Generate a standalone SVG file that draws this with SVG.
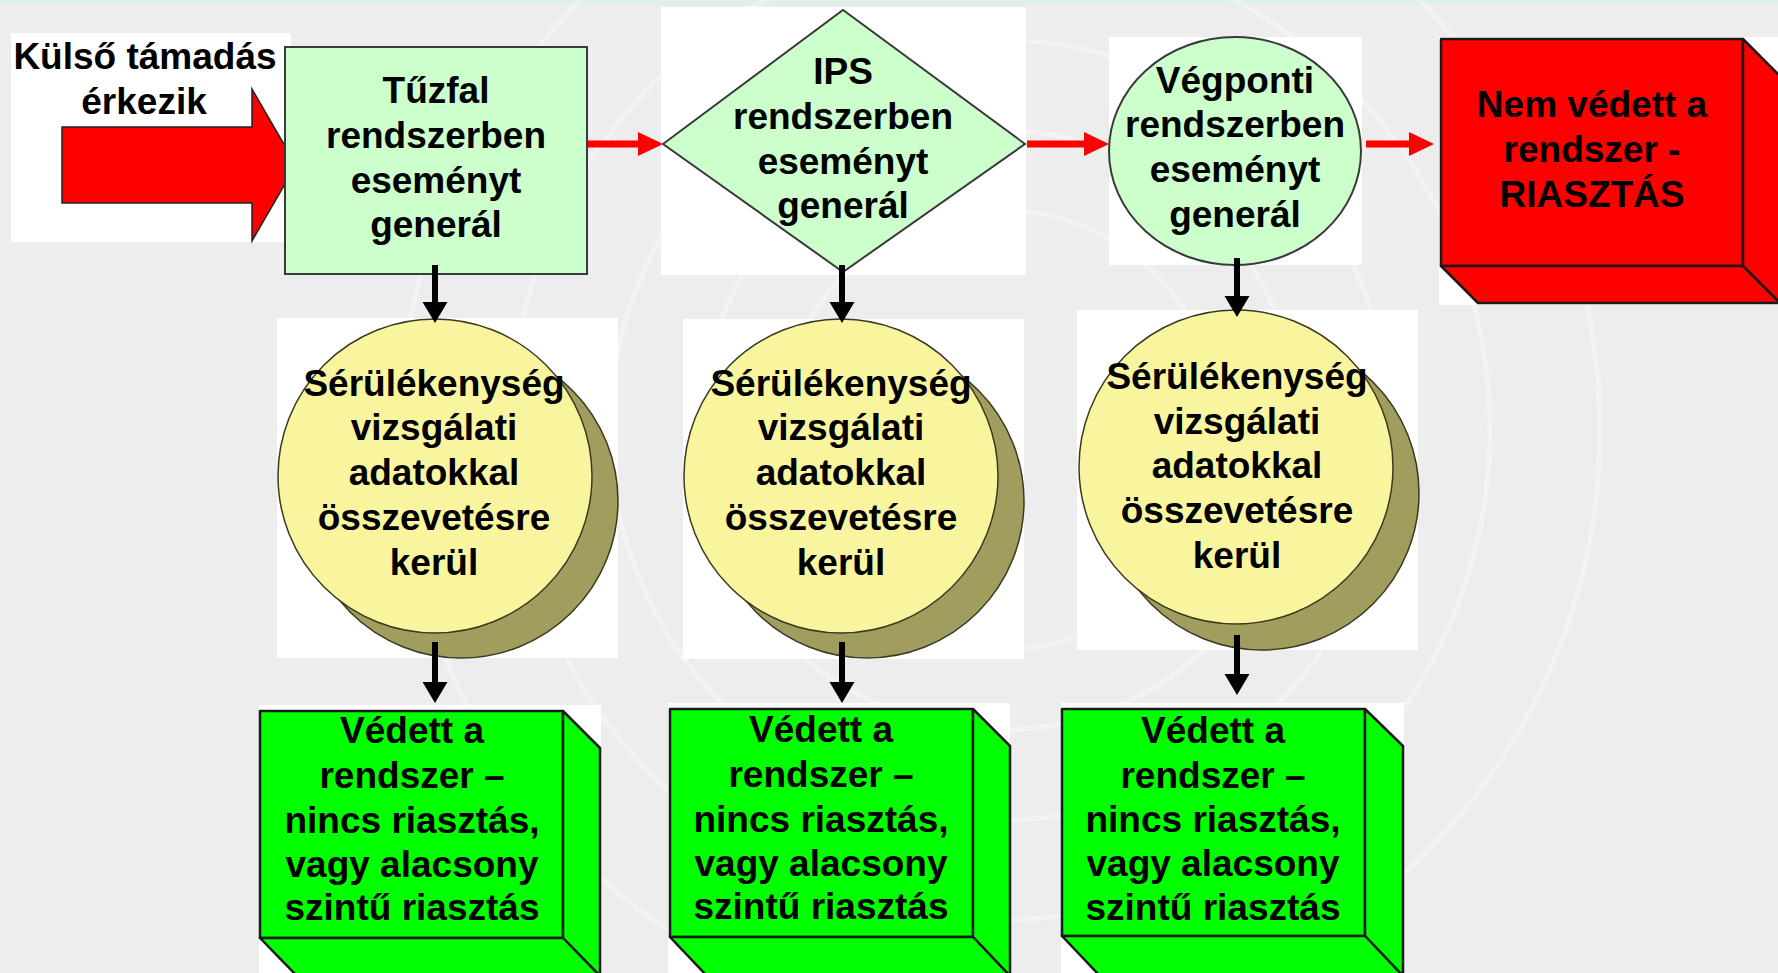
<svg xmlns="http://www.w3.org/2000/svg" width="1778" height="973" viewBox="0 0 1778 973">
<defs>
<style>
.t{font-family:"Liberation Sans",Arial,sans-serif;font-weight:bold;font-size:37px;fill:#000;text-anchor:middle}
.wb{fill:#ffffff}
.lg{fill:#ccffcc;stroke:#3a3a3a;stroke-width:2}
.yl{fill:#f8f59e;stroke:#3a3a20;stroke-width:1.5}
.sh{fill:#a09d5e;stroke:#3a3a20;stroke-width:1.5}
.gb{fill:#00ff00;stroke:#1a1a1a;stroke-width:2.5;stroke-linejoin:round}
.rb{fill:#ff0000;stroke:#1a1a1a;stroke-width:2.5;stroke-linejoin:round}
.ra{stroke:#ff0000;stroke-width:7;fill:none}
.ba{stroke:#000;stroke-width:6;fill:none}
.sw{fill:none;stroke:#ffffff;stroke-opacity:0.35;stroke-width:5}
</style>
<marker id="rh" markerUnits="userSpaceOnUse" markerWidth="26" markerHeight="26" refX="0" refY="12" orient="auto">
<path d="M0,0 L25,12 L0,24 Z" fill="#ff0000"/>
</marker>
<marker id="bh" markerUnits="userSpaceOnUse" markerWidth="26" markerHeight="26" refX="0" refY="12.5" orient="auto">
<path d="M0,0 L21,12.5 L0,25 Z" fill="#000"/>
</marker>
</defs>

<g id="background">
<rect x="0" y="0" width="1778" height="973" fill="#ededed"/>
<rect x="0" y="0" width="1778" height="5" fill="#dff0e6"/>
<circle class="sw" cx="1000" cy="430" r="220"/>
<circle class="sw" cx="1000" cy="430" r="300"/>
<circle class="sw" cx="1000" cy="430" r="390"/>
<circle class="sw" cx="1000" cy="430" r="490"/>
<circle class="sw" cx="1000" cy="430" r="600"/>
</g>

<g id="attack">
<rect class="wb" x="11" y="33" width="280" height="209"/>
<polygon points="62,127 252,127 252,89 296,165 252,241 252,203 62,203" fill="#ff0000" stroke="#222" stroke-width="1.5"/>
<text class="t" x="145" y="69">Külső támadás</text>
<text class="t" x="144" y="114">érkezik</text>
</g>

<g id="firewall">
<rect class="lg" x="285" y="47" width="302" height="227"/>
<text class="t" x="436" y="103">Tűzfal</text>
<text class="t" x="436" y="148">rendszerben</text>
<text class="t" x="436" y="193">eseményt</text>
<text class="t" x="436" y="237">generál</text>
</g>

<g id="ips">
<rect class="wb" x="661" y="7" width="365" height="268"/>
<polygon class="lg" points="663,144 843,10 1025,144 843,272"/>
<text class="t" x="843" y="84">IPS</text>
<text class="t" x="843" y="129">rendszerben</text>
<text class="t" x="843" y="174">eseményt</text>
<text class="t" x="843" y="218">generál</text>
</g>

<g id="endpoint">
<rect class="wb" x="1109" y="37" width="253" height="228"/>
<ellipse class="lg" cx="1235" cy="151" rx="126" ry="114"/>
<text class="t" x="1235" y="93">Végponti</text>
<text class="t" x="1235" y="137">rendszerben</text>
<text class="t" x="1235" y="182">eseményt</text>
<text class="t" x="1235" y="227">generál</text>
</g>

<g id="alarm">
<rect class="wb" x="1439" y="37" width="339" height="268"/>
<rect class="rb" x="1441" y="39" width="302" height="227"/>
<polygon class="rb" points="1743,39 1780,76 1780,303 1743,266"/>
<polygon class="rb" points="1441,266 1743,266 1780,303 1478,303"/>
<text class="t" x="1592" y="117">Nem védett a</text>
<text class="t" x="1592" y="162">rendszer -</text>
<text class="t" x="1592" y="207">RIASZTÁS</text>
</g>

<g id="vuln1">
<rect class="wb" x="277" y="318" width="341" height="340"/>
<ellipse class="sh" cx="461" cy="501" rx="157" ry="157"/>
<ellipse class="yl" cx="435" cy="476" rx="157" ry="157"/>
<text class="t" x="434" y="396">Sérülékenység</text>
<text class="t" x="434" y="440">vizsgálati</text>
<text class="t" x="434" y="485">adatokkal</text>
<text class="t" x="434" y="530">összevetésre</text>
<text class="t" x="434" y="575">kerül</text>
</g>

<g id="vuln2">
<rect class="wb" x="683" y="319" width="341" height="340"/>
<ellipse class="sh" cx="867" cy="501" rx="157" ry="157"/>
<ellipse class="yl" cx="841" cy="476" rx="157" ry="157"/>
<text class="t" x="841" y="396">Sérülékenység</text>
<text class="t" x="841" y="440">vizsgálati</text>
<text class="t" x="841" y="485">adatokkal</text>
<text class="t" x="841" y="530">összevetésre</text>
<text class="t" x="841" y="575">kerül</text>
</g>

<g id="vuln3">
<rect class="wb" x="1077" y="310" width="341" height="340"/>
<ellipse class="sh" cx="1262" cy="493" rx="157" ry="157"/>
<ellipse class="yl" cx="1236" cy="467" rx="157" ry="157"/>
<text class="t" x="1237" y="389">Sérülékenység</text>
<text class="t" x="1237" y="434">vizsgálati</text>
<text class="t" x="1237" y="478">adatokkal</text>
<text class="t" x="1237" y="523">összevetésre</text>
<text class="t" x="1237" y="568">kerül</text>
</g>

<g id="safe1">
<rect class="wb" x="259" y="705" width="342" height="268"/>
<rect class="gb" x="260" y="711" width="303" height="227"/>
<polygon class="gb" points="563,711 600,748 600,976 563,938"/>
<polygon class="gb" points="260,938 563,938 600,976 297,976"/>
<text class="t" x="412" y="743">Védett a</text>
<text class="t" x="412" y="788">rendszer –</text>
<text class="t" x="412" y="833">nincs riasztás,</text>
<text class="t" x="412" y="877">vagy alacsony</text>
<text class="t" x="412" y="920">szintű riasztás</text>
</g>

<g id="safe2">
<rect class="wb" x="668" y="703" width="342" height="270"/>
<rect class="gb" x="670" y="709" width="303" height="228"/>
<polygon class="gb" points="973,709 1010,746 1010,976 973,937"/>
<polygon class="gb" points="670,937 973,937 1010,976 707,976"/>
<text class="t" x="821" y="742">Védett a</text>
<text class="t" x="821" y="787">rendszer –</text>
<text class="t" x="821" y="832">nincs riasztás,</text>
<text class="t" x="821" y="876">vagy alacsony</text>
<text class="t" x="821" y="919">szintű riasztás</text>
</g>

<g id="safe3">
<rect class="wb" x="1061" y="703" width="343" height="270"/>
<rect class="gb" x="1062" y="709" width="303" height="227"/>
<polygon class="gb" points="1365,709 1403,746 1403,976 1365,936"/>
<polygon class="gb" points="1062,936 1365,936 1403,976 1100,976"/>
<text class="t" x="1213" y="743">Védett a</text>
<text class="t" x="1213" y="788">rendszer –</text>
<text class="t" x="1213" y="832">nincs riasztás,</text>
<text class="t" x="1213" y="876">vagy alacsony</text>
<text class="t" x="1213" y="920">szintű riasztás</text>
</g>

<g id="connectors">
<line class="ra" x1="588" y1="144" x2="638" y2="144" marker-end="url(#rh)"/>
<line class="ra" x1="1027" y1="144" x2="1084" y2="144" marker-end="url(#rh)"/>
<line class="ra" x1="1366" y1="144" x2="1409" y2="144" marker-end="url(#rh)"/>
<line class="ba" x1="435" y1="265" x2="435" y2="302" marker-end="url(#bh)"/>
<line class="ba" x1="842" y1="265" x2="842" y2="302" marker-end="url(#bh)"/>
<line class="ba" x1="1237" y1="258" x2="1237" y2="296" marker-end="url(#bh)"/>
<line class="ba" x1="435" y1="642" x2="435" y2="682" marker-end="url(#bh)"/>
<line class="ba" x1="842" y1="642" x2="842" y2="682" marker-end="url(#bh)"/>
<line class="ba" x1="1237" y1="635" x2="1237" y2="674" marker-end="url(#bh)"/>
</g>
</svg>
